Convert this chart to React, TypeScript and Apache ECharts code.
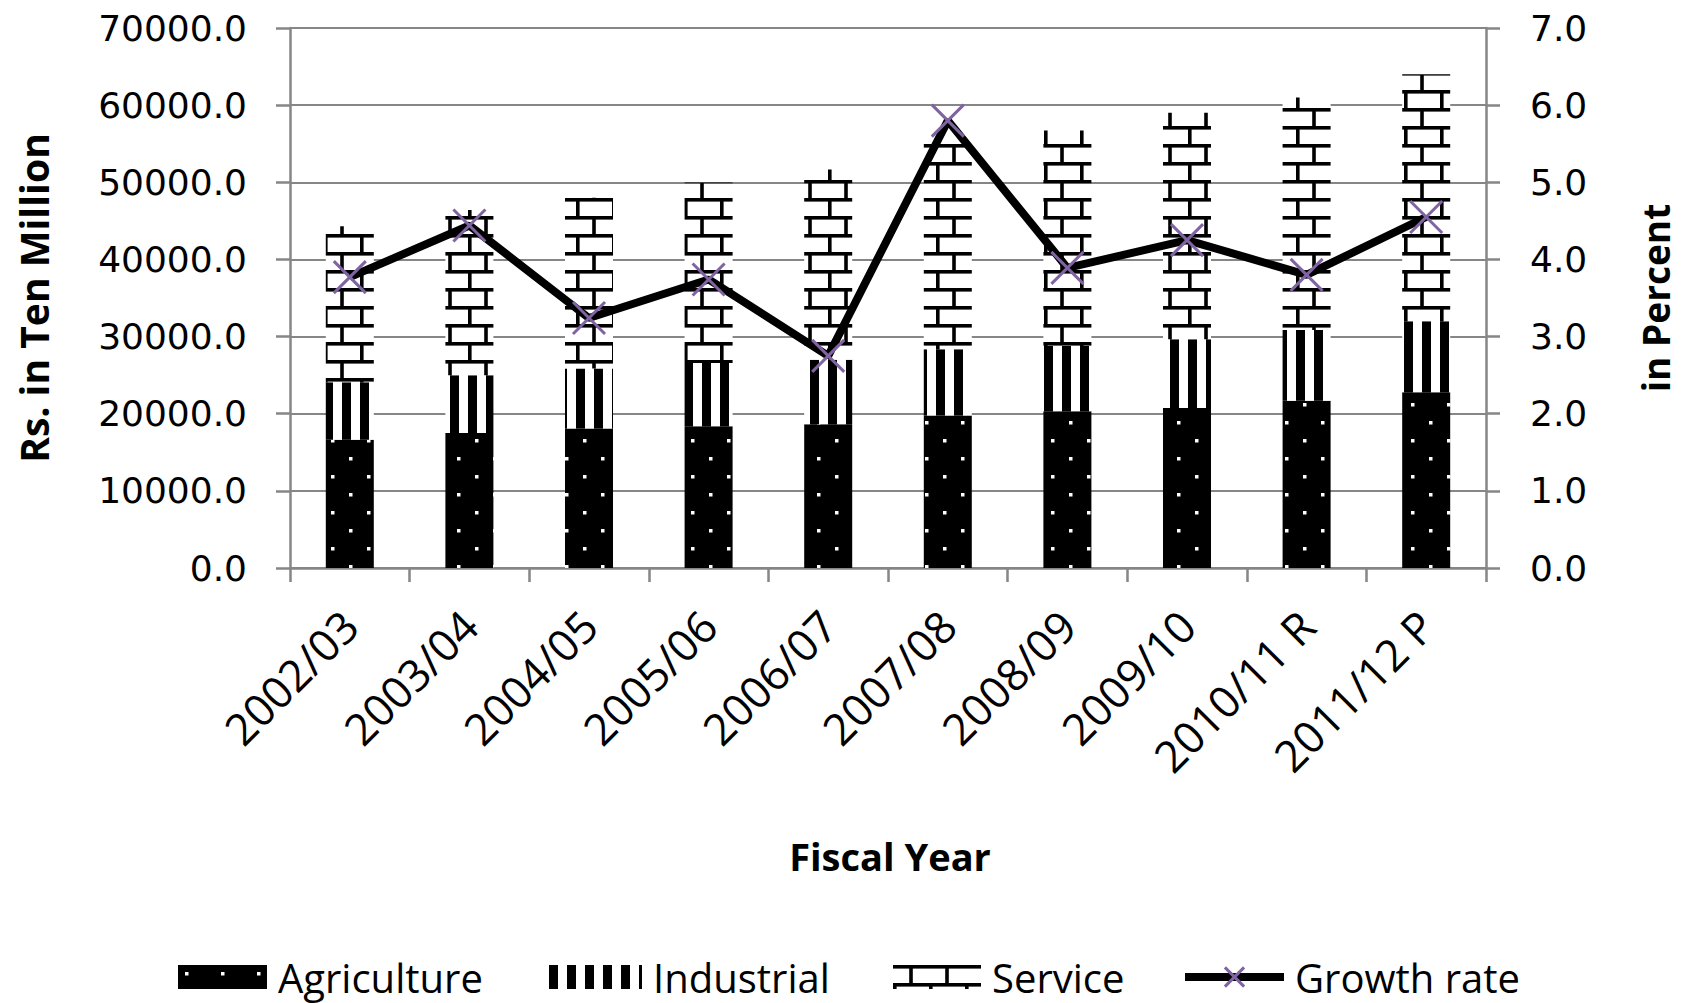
import React, { useEffect, useRef } from "react";
import * as echarts from "echarts";

const categories = ["2002/03", "2003/04", "2004/05", "2005/06", "2006/07", "2007/08", "2008/09", "2009/10", "2010/11 R", "2011/12 P"];
const agriculture = [16640, 17510, 18070, 18370, 18650, 19760, 20320, 20750, 21690, 22770];
const industrial = [7430, 7470, 7780, 8220, 8350, 8590, 8460, 8890, 9150, 9230];
const service = [20230, 21420, 22150, 23380, 24650, 27450, 27920, 29360, 30160, 32000];
const growthRate = [3.77, 4.44, 3.24, 3.74, 2.75, 5.8, 3.89, 4.25, 3.8, 4.55];
const leftTicks = [0, 10000, 20000, 30000, 40000, 50000, 60000, 70000];
const rightTicks = [0, 1, 2, 3, 4, 5, 6, 7];

const svgUrl = (svg: string) => "data:image/svg+xml;charset=utf-8," + encodeURIComponent(svg);

const dotsTile = svgUrl(
  "<svg xmlns='http://www.w3.org/2000/svg' width='36' height='36'>" +
    "<rect width='36' height='36' fill='#000'/>" +
    "<rect x='7' y='7' width='3.5' height='3.5' fill='#fff'/>" +
    "<rect x='25' y='25' width='3.5' height='3.5' fill='#fff'/>" +
    "</svg>"
);
const stripesTile = svgUrl(
  "<svg xmlns='http://www.w3.org/2000/svg' width='18' height='18'>" +
    "<rect width='18' height='18' fill='#fff'/>" +
    "<rect x='0' y='0' width='9' height='18' fill='#000'/>" +
    "</svg>"
);
const brickTile = svgUrl(
  "<svg xmlns='http://www.w3.org/2000/svg' width='36' height='36'>" +
    "<rect width='36' height='36' fill='#fff'/>" +
    "<rect x='0' y='0' width='36' height='3.6' fill='#000'/>" +
    "<rect x='0' y='18' width='36' height='3.6' fill='#000'/>" +
    "<rect x='16.2' y='0' width='3.6' height='18' fill='#000'/>" +
    "<rect x='0' y='18' width='3.6' height='18' fill='#000'/>" +
    "</svg>"
);

const pattern = (image: string, w: number, h: number) => ({
  image,
  repeat: "repeat",
  imageWidth: w,
  imageHeight: h,
});

const AXIS_GRAY = "#868686";
const PURPLE = "#8064A2";
const BAR_W = 48;

const legendText = {
  fontFamily: "Open Sans",
  fontSize: 40,
  lineHeight: 40,
  color: "#000",
  padding: [0, 0, 0, 6],
};

const makeLegend = (name: string, left: number, width: number, extra: any = {}) => ({
  left,
  top: 957,
  padding: 0,
  itemWidth: width,
  itemHeight: 24,
  selectedMode: false,
  textStyle: legendText,
  data: [{ name, ...extra }],
});

export default function App() {
  const ref = useRef<HTMLDivElement>(null);

  useEffect(() => {
    if (!ref.current) return;
    const chart = echarts.init(ref.current, undefined, { renderer: "svg" });
    const option: any = {
      animation: false,
      backgroundColor: "#fff",
      grid: { left: 290, right: 201, top: 28, bottom: 435, containLabel: false },
      legend: [
        makeLegend("Agriculture", 178, 89, { icon: "rect" }),
        makeLegend("Industrial", 549, 93, { icon: "rect" }),
        makeLegend("Service", 893, 88, { icon: "rect" }),
        makeLegend("Growth rate", 1181, 99, {
          lineStyle: { color: "#000", width: 8 },
          itemStyle: { color: "rgba(0,0,0,0)", borderColor: PURPLE, borderWidth: 3 },
        }),
      ],
      xAxis: {
        type: "category",
        data: categories,
        axisLine: { lineStyle: { color: AXIS_GRAY, width: 2.5 } },
        axisTick: { show: true, length: 14, lineStyle: { color: AXIS_GRAY, width: 2.5 } },
        axisLabel: {
          rotate: 45,
          margin: 50,
          interval: 0,
          fontFamily: "Open Sans",
          fontSize: 44,
          color: "#000",
          padding: [58, 0, 0, 0],
        },
      },
      yAxis: [
        {
          type: "value",
          min: leftTicks[0],
          max: leftTicks[leftTicks.length - 1],
          interval: leftTicks[1] - leftTicks[0],
          axisLine: { show: true, lineStyle: { color: AXIS_GRAY, width: 2.5 } },
          axisTick: { show: true, length: 14, lineStyle: { color: AXIS_GRAY, width: 2.5 } },
          splitLine: { show: true, lineStyle: { color: AXIS_GRAY, width: 2 } },
          axisLabel: {
            margin: 43,
            fontFamily: "DejaVu Sans",
            fontSize: 36,
            color: "#000",
            formatter: (v: number) => v.toFixed(1),
          },
        },
        {
          type: "value",
          min: rightTicks[0],
          max: rightTicks[rightTicks.length - 1],
          interval: rightTicks[1] - rightTicks[0],
          position: "right",
          axisLine: { show: true, lineStyle: { color: AXIS_GRAY, width: 2.5 } },
          axisTick: { show: true, length: 14, lineStyle: { color: AXIS_GRAY, width: 2.5 } },
          splitLine: { show: false },
          axisLabel: {
            margin: 44,
            fontFamily: "DejaVu Sans",
            fontSize: 36,
            color: "#000",
            formatter: (v: number) => v.toFixed(1),
          },
        },
      ],
      graphic: [
        {
          type: "text",
          x: 33,
          y: 298,
          rotation: Math.PI / 2,
          style: {
            text: "Rs. in Ten Million",
            fontFamily: "Open Sans",
            fontWeight: "bold",
            fontSize: 39,
            fill: "#000",
            align: "center",
            verticalAlign: "middle",
          },
        },
        {
          type: "text",
          x: 1655,
          y: 298,
          rotation: Math.PI / 2,
          style: {
            text: "in Percent",
            fontFamily: "Open Sans",
            fontWeight: "bold",
            fontSize: 37,
            fill: "#000",
            align: "center",
            verticalAlign: "middle",
          },
        },
        {
          type: "text",
          x: 890,
          y: 856,
          style: {
            text: "Fiscal Year",
            fontFamily: "Open Sans",
            fontWeight: "bold",
            fontSize: 38,
            fill: "#000",
            align: "center",
            verticalAlign: "middle",
          },
        },
      ],
      series: [
        {
          name: "Agriculture",
          type: "bar",
          stack: "gdp",
          barWidth: BAR_W,
          data: agriculture,
          itemStyle: { color: pattern(dotsTile, 36, 36) },
          emphasis: { disabled: true },
        },
        {
          name: "Industrial",
          type: "bar",
          stack: "gdp",
          barWidth: BAR_W,
          data: industrial,
          itemStyle: { color: pattern(stripesTile, 18, 18) },
          emphasis: { disabled: true },
        },
        {
          name: "Service",
          type: "bar",
          stack: "gdp",
          barWidth: BAR_W,
          data: service,
          itemStyle: { color: pattern(brickTile, 36, 36) },
          emphasis: { disabled: true },
        },
        {
          name: "Growth rate",
          type: "line",
          yAxisIndex: 1,
          data: growthRate,
          symbol: "path://M0,0L20,20M20,0L0,20",
          symbolSize: 32,
          lineStyle: { color: "#000", width: 8 },
          itemStyle: { color: "rgba(0,0,0,0)", borderColor: PURPLE, borderWidth: 3 },
          emphasis: { disabled: true },
          z: 5,
        },
      ],
    };
    chart.setOption(option);
    return () => chart.dispose();
  }, []);

  return (
    <div
      ref={ref}
      style={{ position: "fixed", left: 0, top: 0, width: 1687, height: 1003, background: "#fff" }}
    />
  );
}
